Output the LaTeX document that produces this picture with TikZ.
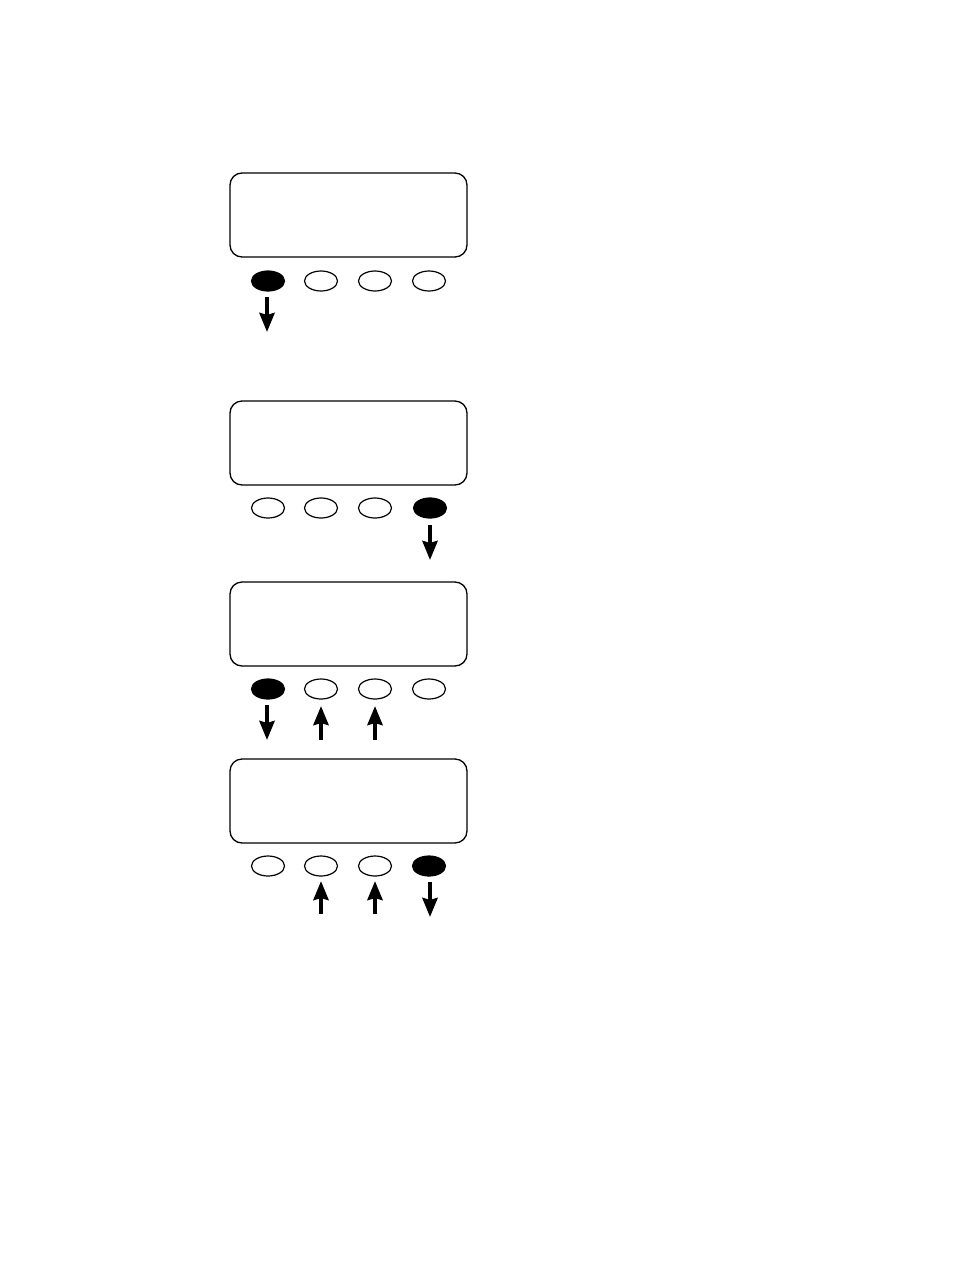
\documentclass[tikz,border=0pt]{standalone}
\usetikzlibrary{shapes.geometric,arrows.meta}
\begin{document}
\begin{tikzpicture}[x=1pt,y=-1pt,
  screen/.style={draw,line width=1.3pt,rounded corners=12pt},
  btn/.style={ellipse,draw,line width=1.2pt,minimum width=33pt,minimum height=20pt,inner sep=0pt,fill=white},
  btnon/.style={btn,fill=black},
  press/.style={line width=4pt,-{Stealth[length=19pt,width=15pt,inset=2pt]}}]
\useasboundingbox (0,0) rectangle (954,1272);
% panel 1
\draw[screen] (230,173) rectangle (467,257);
\node[btnon] (a1) at (268,281) {};
\node[btn] (a2) at (321,281) {};
\node[btn] (a3) at (375,281) {};
\node[btn] (a4) at (429,281) {};
\coordinate (a1s) at (267,297); \coordinate (a1e) at (267,332);
\draw[press] (a1s) -- (a1e);
% panel 2
\draw[screen] (230,401) rectangle (467,485);
\node[btn] (b1) at (268,508) {};
\node[btn] (b2) at (321,508) {};
\node[btn] (b3) at (375,508) {};
\node[btnon] (b4) at (430,508) {};
\coordinate (b4s) at (430,525); \coordinate (b4e) at (430,560);
\draw[press] (b4s) -- (b4e);
% panel 3
\draw[screen] (230,582) rectangle (467,666);
\node[btnon] (c1) at (268,689) {};
\node[btn] (c2) at (321,689) {};
\node[btn] (c3) at (375,689) {};
\node[btn] (c4) at (429,689) {};
\coordinate (c1s) at (267,705); \coordinate (c1e) at (267,740);
\coordinate (c2s) at (321,740); \coordinate (c2e) at (321,706);
\coordinate (c3s) at (375,740); \coordinate (c3e) at (375,706);
\draw[press] (c1s) -- (c1e);
\draw[press] (c2s) -- (c2e);
\draw[press] (c3s) -- (c3e);
% panel 4
\draw[screen] (230,759) rectangle (467,843);
\node[btn] (d1) at (268,866) {};
\node[btn] (d2) at (321,866) {};
\node[btn] (d3) at (375,866) {};
\node[btnon] (d4) at (429,866) {};
\coordinate (d2s) at (321,914); \coordinate (d2e) at (321,881);
\coordinate (d3s) at (375,914); \coordinate (d3e) at (375,881);
\coordinate (d4s) at (430,882); \coordinate (d4e) at (430,917);
\draw[press] (d2s) -- (d2e);
\draw[press] (d3s) -- (d3e);
\draw[press] (d4s) -- (d4e);
\end{tikzpicture}
\end{document}
